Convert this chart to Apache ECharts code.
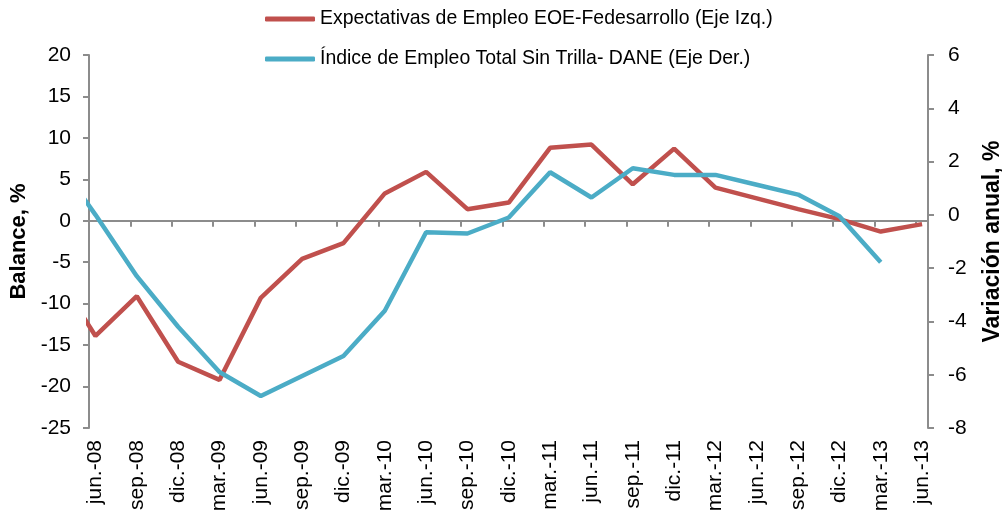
<!DOCTYPE html>
<html>
<head>
<meta charset="utf-8">
<title>Expectativas de Empleo vs Índice de Empleo</title>
<script src="https://cdn.jsdelivr.net/npm/echarts@6/dist/echarts.min.js"></script>
<style>
    html, body { margin: 0; padding: 0; background: #ffffff; }
    #chart { width: 1002px; height: 518px; }
</style>
</head>
<body>
<div id="chart"></div>
<script>
// Trimestres (mar.-08 solo se ve recortado en el borde izquierdo)
const quarters = [
    'mar.-08', 'jun.-08', 'sep.-08', 'dic.-08', 'mar.-09', 'jun.-09', 'sep.-09',
    'dic.-09', 'mar.-10', 'jun.-10', 'sep.-10', 'dic.-10', 'mar.-11', 'jun.-11',
    'sep.-11', 'dic.-11', 'mar.-12', 'jun.-12', 'sep.-12', 'dic.-12', 'mar.-13', 'jun.-13'
];

// Expectativas de Empleo EOE-Fedesarrollo, balance % (eje izq.)
const eoe = [
    -6.0, -13.9, -9.1, -17.0, -19.2, -9.3, -4.6, -2.7, 3.3, 5.9, 1.4,
    2.2, 8.8, 9.2, 4.4, 8.7, 4.0, 2.7, 1.4, 0.2, -1.3, -0.4
];

// Índice de Empleo Total Sin Trilla - DANE, variación anual % (eje der.)
const dane = [
    2.2, 0.0, -2.3, -4.2, -5.9, -6.8, -6.05, -5.3, -3.6, -0.65, -0.7,
    -0.1, 1.6, 0.65, 1.75, 1.5, 1.5, 1.13, 0.76, -0.05, -1.78, null
];

const seriesNames = [
    'Expectativas de Empleo EOE-Fedesarrollo (Eje Izq.)',
    'Índice de Empleo Total Sin Trilla- DANE (Eje Der.)'
];

// meses contados desde jun.-08
const monthOffset = quarters.map((q, i) => (i - 1) * 3);

// el eje de fechas arranca un poco antes de jun.-08, como en Excel
const xMin = -0.47;
const xMax = 60.43;
const tickValues = Array.from({ length: 21 }, (_, k) => xMin + 3 * k);
const labelValues = monthOffset.slice(1);

const FONT = '"Liberation Sans", Arial, sans-serif';
const AXIS_GRAY = '#8c8c8c';

const chartDom = document.getElementById('chart');
const myChart = echarts.init(chartDom, null, { renderer: 'canvas' });

const option = {
    animation: false,
    backgroundColor: '#ffffff',
    textStyle: { fontFamily: FONT, color: '#000' },
    legend: {
        orient: 'vertical',
        left: 260,
        top: 3,
        itemWidth: 50,
        itemHeight: 5,
        itemGap: 18,
        data: [
            { name: seriesNames[0], icon: 'roundRect' },
            { name: seriesNames[1], icon: 'roundRect' }
        ],
        textStyle: { fontFamily: FONT, fontSize: 19.45, color: '#000', lineHeight: 22 }
    },
    grid: { left: 89, right: 74, top: 55, bottom: 90, outerBoundsMode: 'none', containLabel: false },
    xAxis: [
        {
            // línea en cero con marcas trimestrales
            type: 'value',
            min: xMin,
            max: xMax,
            axisLine: {
                show: true,
                onZero: true,
                onZeroAxisIndex: 0,
                lineStyle: { color: AXIS_GRAY, width: 2 }
            },
            axisTick: {
                show: true,
                length: 6,
                customValues: tickValues,
                lineStyle: { color: AXIS_GRAY, width: 2 }
            },
            axisLabel: { show: false },
            splitLine: { show: false }
        },
        {
            // etiquetas de fecha abajo
            type: 'value',
            position: 'bottom',
            min: xMin,
            max: xMax,
            axisLine: { show: false, onZero: false },
            axisTick: { show: false },
            splitLine: { show: false },
            axisLabel: {
                customValues: labelValues,
                rotate: 90,
                margin: 12,
                fontFamily: FONT,
                fontSize: 21,
                color: '#000',
                formatter: function (v) {
                    return quarters[Math.round(v / 3) + 1];
                }
            }
        }
    ],
    yAxis: [
        {
            type: 'value',
            position: 'left',
            min: -25,
            max: 20,
            interval: 5,
            name: 'Balance, %',
            nameLocation: 'middle',
            nameRotate: 90,
            nameGap: 56,
            nameTextStyle: { fontFamily: FONT, fontSize: 22, fontWeight: 'bold', color: '#000' },
            axisLine: { show: true, onZero: false, lineStyle: { color: AXIS_GRAY, width: 2 } },
            axisTick: { show: true, length: 6, lineStyle: { color: AXIS_GRAY, width: 2 } },
            axisLabel: { margin: 18, fontFamily: FONT, fontSize: 21, color: '#000' },
            splitLine: { show: false }
        },
        {
            type: 'value',
            position: 'right',
            min: -8,
            max: 6,
            interval: 2,
            name: 'Variación anual, %',
            nameLocation: 'middle',
            nameRotate: 90,
            nameGap: 53,
            nameTextStyle: { fontFamily: FONT, fontSize: 23, fontWeight: 'bold', color: '#000' },
            axisLine: { show: true, onZero: false, lineStyle: { color: AXIS_GRAY, width: 2 } },
            axisTick: { show: true, length: 6, lineStyle: { color: AXIS_GRAY, width: 2 } },
            axisLabel: { margin: 20, fontFamily: FONT, fontSize: 21, color: '#000' },
            splitLine: { show: false }
        }
    ],
    series: [
        {
            name: seriesNames[0],
            type: 'line',
            xAxisIndex: 0,
            yAxisIndex: 0,
            data: quarters.map((q, i) => [monthOffset[i], eoe[i]]),
            showSymbol: false,
            symbol: 'none',
            clip: true,
            itemStyle: { color: '#C0504D' },
            lineStyle: { color: '#C0504D', width: 4.5 }
        },
        {
            name: seriesNames[1],
            type: 'line',
            xAxisIndex: 0,
            yAxisIndex: 1,
            data: quarters.map((q, i) => [monthOffset[i], dane[i]]),
            showSymbol: false,
            symbol: 'none',
            clip: true,
            itemStyle: { color: '#4BACC6' },
            lineStyle: { color: '#4BACC6', width: 4.5 }
        }
    ]
};

myChart.setOption(option);
</script>
</body>
</html>
